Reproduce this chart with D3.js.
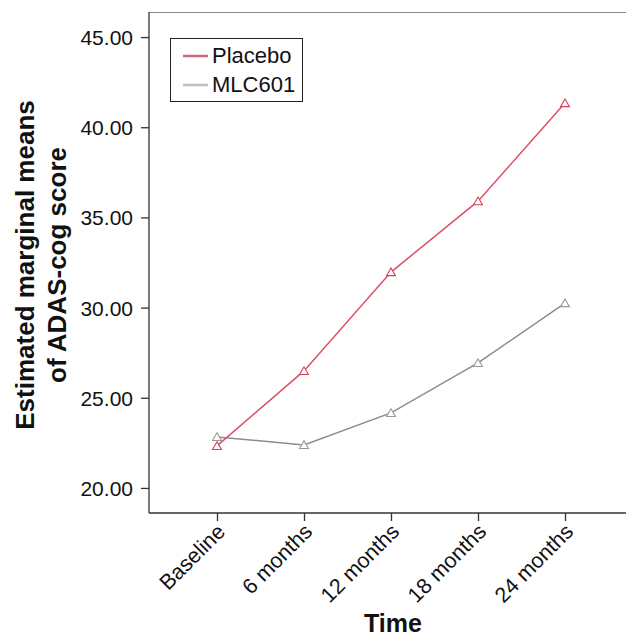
<!DOCTYPE html>
<html><head><meta charset="utf-8">
<script src="https://cdn.jsdelivr.net/npm/d3@7"></script>
<style>body{margin:0;background:#fff}svg{display:block}text{font-family:"Liberation Sans",Arial,sans-serif}</style>
</head><body>
<svg id="c" width="626" height="639"></svg>
<script>
const categories = ["Baseline","6 months","12 months","18 months","24 months"];
const placebo = [22.33, 26.49, 31.97, 35.90, 41.34];
const mlc601 = [22.83, 22.38, 24.16, 26.93, 30.25];
const yTicks = [20,25,30,35,40,45];
const seriesNames = ["Placebo","MLC601"];
const lineColors = ["#dc5068","#8c8c8c"];
const legendColors = ["#c9697e","#c0c0c0"];

const svg = d3.select("#c");
const L=149, T=12, R=660, B=513;
const x = d3.scalePoint().domain(categories).range([217,565]);
const y = d3.scaleLinear().domain([18.61,46.39]).range([B,T]);

// frame
svg.append("line").attr("x1",L).attr("x2",R).attr("y1",T+0.5).attr("y2",T+0.5).attr("stroke","#888").attr("stroke-width",1.2);
svg.append("line").attr("x1",L).attr("x2",R).attr("y1",B).attr("y2",B).attr("stroke","#333").attr("stroke-width",1.3);
svg.append("line").attr("x1",L).attr("x2",L).attr("y1",T).attr("y2",B).attr("stroke","#333").attr("stroke-width",1.3);

const yAxis = svg.append("g").attr("transform",`translate(${L},0)`)
  .call(d3.axisLeft(y).tickValues(yTicks).tickFormat(d3.format(".2f")).tickSize(8).tickPadding(8));
yAxis.select(".domain").remove();
yAxis.selectAll("line").attr("stroke","#333").attr("stroke-width",1.3);
yAxis.selectAll("text").attr("font-size",21).attr("fill","#111").attr("dy","0.36em");

const xAxis = svg.append("g").attr("transform",`translate(0,${B})`)
  .call(d3.axisBottom(x).tickSize(8).tickPadding(4));
xAxis.select(".domain").remove();
xAxis.selectAll("line").attr("stroke","#333").attr("stroke-width",1.3);
xAxis.selectAll("text").attr("font-size",21.5).attr("fill","#111")
  .attr("text-anchor","end").attr("dy",0).attr("y",0)
  .attr("transform","translate(9,20) rotate(-45)");

const series = [placebo, mlc601];
const line = d3.line().x((d,i)=>x(categories[i])).y(d=>y(d));
const tri = d3.symbol().type(d3.symbolTriangle).size(34);
[1,0].forEach(k=>{
  svg.append("path").attr("d",line(series[k])).attr("fill","none").attr("stroke",lineColors[k]).attr("stroke-width",1.5);
  svg.selectAll(null).data(series[k]).enter().append("path")
    .attr("d",tri).attr("transform",(d,i)=>`translate(${x(categories[i])},${y(d)+1})`)
    .attr("fill","#fff").attr("stroke",k==0?"#d6405c":"#999").attr("stroke-width",1.1);
});

// legend
const lg = svg.append("g");
lg.append("rect").attr("x",170.5).attr("y",38.5).attr("width",132).attr("height",63).attr("fill","#fff").attr("stroke","#222").attr("stroke-width",1);
seriesNames.forEach((n,i)=>{
  const yy = 56 + i*29;
  lg.append("line").attr("x1",183).attr("x2",208).attr("y1",yy).attr("y2",yy).attr("stroke",legendColors[i]).attr("stroke-width",2.5);
  lg.append("text").attr("x",212).attr("y",yy+7).attr("font-size",22).attr("fill","#111").text(n);
});

// titles
svg.append("text").attr("transform","translate(34,265) rotate(-90)").attr("text-anchor","middle").attr("font-size",26).attr("font-weight","bold").attr("fill","#111").text("Estimated marginal means");
svg.append("text").attr("transform","translate(66,265) rotate(-90)").attr("text-anchor","middle").attr("font-size",26).attr("font-weight","bold").attr("fill","#111").text("of ADAS-cog score");
svg.append("text").attr("x",393).attr("y",632).attr("text-anchor","middle").attr("font-size",25).attr("font-weight","bold").attr("fill","#111").text("Time");
</script>
</body></html>
